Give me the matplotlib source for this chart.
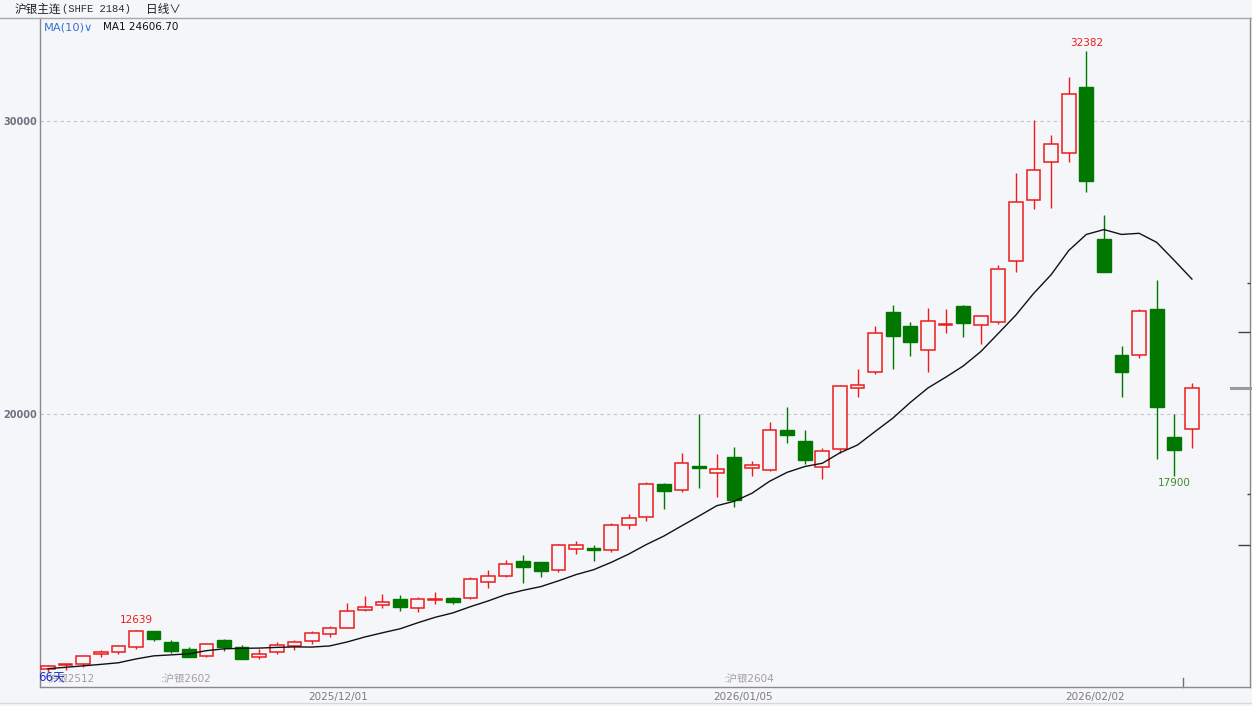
import matplotlib
matplotlib.use("Agg")
import matplotlib.pyplot as plt
from matplotlib.transforms import blended_transform_factory
from matplotlib.lines import Line2D
import numpy as np

# ---------------- data ----------------
opens = [11290, 11440, 11460, 11800, 11890, 12060, 12580, 12220, 11970, 11740,
         12280, 12040, 11700, 11880, 12070, 12245, 12490, 12700, 13300, 13470,
         13690, 13370, 13640, 13720, 13720, 14280, 14480, 14980, 14950, 14690,
         15400, 15440, 15370, 16200, 16490, 17610, 17400, 18215, 18000, 18520,
         18170, 18080, 19445, 19090, 18180, 18795, 20880, 21425, 23480, 22990,
         22195, 23050, 23685, 23040, 23150, 25220, 27295, 28600, 28910, 31160,
         25975, 22000, 22000, 23575, 19205, 19490]
highs = [11420, 11490, 11740, 11945, 12080, 12639, 12590, 12290, 12040, 12170,
         12310, 12110, 11990, 12220, 12300, 12600, 12780, 13540, 13780, 13850,
         13810, 13740, 13915, 13740, 14430, 14680, 15020, 15190, 14960, 15580,
         15670, 15530, 16290, 16580, 17680, 17630, 18660, 20000, 18625, 18865,
         18410, 19730, 20250, 19455, 18840, 21000, 21525, 23015, 23720, 23130,
         23605, 23575, 23730, 23390, 25085, 28235, 30025, 29520, 31515, 32382,
         26790, 22320, 23595, 24575, 20000, 21050]
lows = [11200, 11260, 11380, 11700, 11800, 11990, 12260, 11850, 11690, 11700,
        11910, 11640, 11640, 11810, 11930, 12140, 12380, 12690, 13290, 13370,
        13260, 13230, 13500, 13520, 13690, 14060, 14450, 14220, 14450, 14600,
        15210, 14990, 15300, 16085, 16360, 16750, 17330, 17485, 17180, 16835,
        17895, 18070, 19020, 18295, 17790, 18660, 20580, 21355, 21545, 21990,
        21425, 22755, 22615, 22400, 23080, 24855, 26985, 27020, 28610, 27590,
        24830, 20590, 21920, 18465, 17900, 18830]
closes = [11410, 11480, 11730, 11870, 12070, 12580, 12330, 11920, 11700, 12140,
          12040, 11650, 11810, 12110, 12230, 12530, 12710, 13280, 13400, 13570,
          13400, 13690, 13700, 13600, 14360, 14470, 14880, 14770, 14650, 15530,
          15530, 15360, 16210, 16440, 17610, 17380, 18330, 18170, 18135, 17065,
          18250, 19445, 19270, 18420, 18730, 20945, 21000, 22775, 22660, 22460,
          23175, 23085, 23115, 23345, 24950, 27225, 28315, 29215, 30910, 27950,
          24835, 21420, 23505, 20250, 18780, 20875]
# MA(10) values of the first 9 days (they depend on days before the window)
ma_head = [11310, 11355, 11405, 11455, 11510, 11640, 11745, 11780, 11815]
ma_period = 10

date_labels = ["2025/12/01", "2026/01/05", "2026/02/02"]
date_index = [17, 40, 60]
contract_names = ["沪银2512", "沪银2602", "沪银2604"]
contract_index = [0, 7, 39]
y_ticks = [20000, 30000]
right_major = [22800, 15530]
right_minor = [24470, 17270]
peak_label = 32382
low_label = 17900
left_label = 12639
ma_text = "MA1 24606.70"

# ---------------- style ----------------
BG = "#F5F6FA"
RED = "#EE1C1C"
GREEN = "#007800"
W, H = 1252, 706

plt.rcParams["font.family"] = ["DejaVu Sans", "Noto Sans CJK SC"]
fig = plt.figure(figsize=(W / 100, H / 100), dpi=100, facecolor=BG)

def fx(px):
    return px / W

def fy(py):
    return 1 - py / H

ax = fig.add_axes([fx(40), fy(687), fx(1250) - fx(40), fy(18) - fy(687)])
ax.set_facecolor(BG)

n = len(closes)
x = np.arange(n)
o = np.array(opens, float)
h = np.array(highs, float)
l = np.array(lows, float)
c = np.array(closes, float)
up = c >= o

# moving average
ma = np.full(n, np.nan)
ma[:len(ma_head)] = ma_head
for i in range(ma_period - 1, n):
    ma[i] = c[i - ma_period + 1:i + 1].mean()

# wicks
ax.vlines(x[up], l[up], h[up], color=RED, lw=1.0, zorder=3)
ax.vlines(x[~up], l[~up], h[~up], color=GREEN, lw=1.0, zorder=3)
# bodies
bw = 0.78
ax.bar(x[up], np.maximum(c[up] - o[up], 25), bottom=o[up], width=bw,
       facecolor=BG, edgecolor=RED, linewidth=1.1, zorder=4)
ax.bar(x[~up], np.maximum(o[~up] - c[~up], 25), bottom=c[~up], width=bw,
       facecolor=GREEN, edgecolor=GREEN, linewidth=1.0, zorder=4)

ax.plot(x, ma, color="#111111", lw=1.0, zorder=5)

ax.set_xlim(-0.4545, 68.30)
ax.set_ylim(10683, 33515)

# grid / ticks
ax.set_yticks(y_ticks)
ax.set_yticklabels([f"{v}" for v in y_ticks], fontsize=7, fontweight="bold",
                   color="#6E7280")
ax.tick_params(axis="y", length=0, pad=2)
ax.yaxis.grid(True, linestyle=(0, (3, 3)), color="#C4C4C8", lw=0.8)
ax.set_xticks([i - 0.5 for i in date_index])
ax.set_xticklabels(date_labels, fontsize=7.5, color="#7A7A7A")
ax.tick_params(axis="x", length=0, pad=3.5)

for side in ["left", "bottom", "right"]:
    ax.spines[side].set_color("#8A8A8A")
    ax.spines[side].set_linewidth(1.0)
ax.spines["top"].set_visible(False)

# right side tick marks
axr = ax.twinx()
axr.set_ylim(ax.get_ylim())
axr.set_yticks(right_major)
axr.set_yticks(right_minor, minor=True)
axr.tick_params(axis="y", which="major", direction="in", length=9, width=1,
                color="#404040", labelright=False)
axr.tick_params(axis="y", which="minor", direction="in", length=2, width=1,
                color="#404040", labelright=False)
for s in axr.spines.values():
    s.set_visible(False)

trans_ya = blended_transform_factory(ax.transAxes, ax.transData)
trans_xa = blended_transform_factory(ax.transData, ax.transAxes)
# last price marker
ax.plot([0.984, 1.0], [closes[-1], closes[-1]], transform=trans_ya,
        color="#9A9A9A", lw=2.2, clip_on=False, zorder=6)
# session tick at bottom
ax.plot([n - 1.5, n - 1.5], [0, 0.013], transform=trans_xa, color="#707070",
        lw=1.0, clip_on=False)

# extreme labels
ax.annotate(f"{left_label}", (highs.index(left_label), left_label),
            xytext=(0, 3.5), textcoords="offset points", ha="center",
            va="bottom", fontsize=7.5, color=RED)
ax.annotate(f"{peak_label}", (highs.index(peak_label), peak_label),
            xytext=(0, 2.5), textcoords="offset points", ha="center",
            va="bottom", fontsize=7.5, color=RED)
ax.annotate(f"{low_label}", (lows.index(low_label), low_label),
            xytext=(0, -2), textcoords="offset points", ha="center",
            va="top", fontsize=7.5, color="#3E8E2A")

# contract markers
for name, idx in zip(contract_names, contract_index):
    if idx == 0:
        ax.text(idx, 0.012, name, transform=trans_xa, fontsize=7.5,
                color="#A0A0A0", ha="left", va="center")
    else:
        ax.text(idx - 0.6, 0.012, ":" + name, transform=trans_xa,
                fontsize=7.5, color="#A0A0A0", ha="left", va="center")
fig.text(fx(38), fy(677), f"{n}天", fontsize=8.5, color="#2030C8",
         ha="left", va="center")

# header
fig.add_artist(Line2D([0, 1], [fy(18), fy(18)], color="#A8A8A8", lw=1.0))
fig.add_artist(Line2D([0, 1], [fy(703), fy(703)], color="#D8D8DC", lw=1.0))
fig.text(fx(15), fy(9), "沪银主连", fontsize=8.4, color="#202020",
         family=["Noto Sans CJK SC"], ha="left", va="center")
fig.text(fx(62), fy(9), "(SHFE 2184)", fontsize=7.6, color="#303030",
         family=["Liberation Mono"], ha="left", va="center")
fig.text(fx(146), fy(9), "日线∨", fontsize=8.4, color="#202020",
         family=["Noto Sans CJK SC", "DejaVu Sans"], ha="left", va="center")
fig.text(fx(44), fy(27), "MA(10)∨", fontsize=8.2, color="#3A6FD8",
         ha="left", va="center")
fig.text(fx(103), fy(27), ma_text, fontsize=7.5, color="#111111",
         ha="left", va="center")

fig.savefig("out.png", dpi=100, facecolor=BG)
